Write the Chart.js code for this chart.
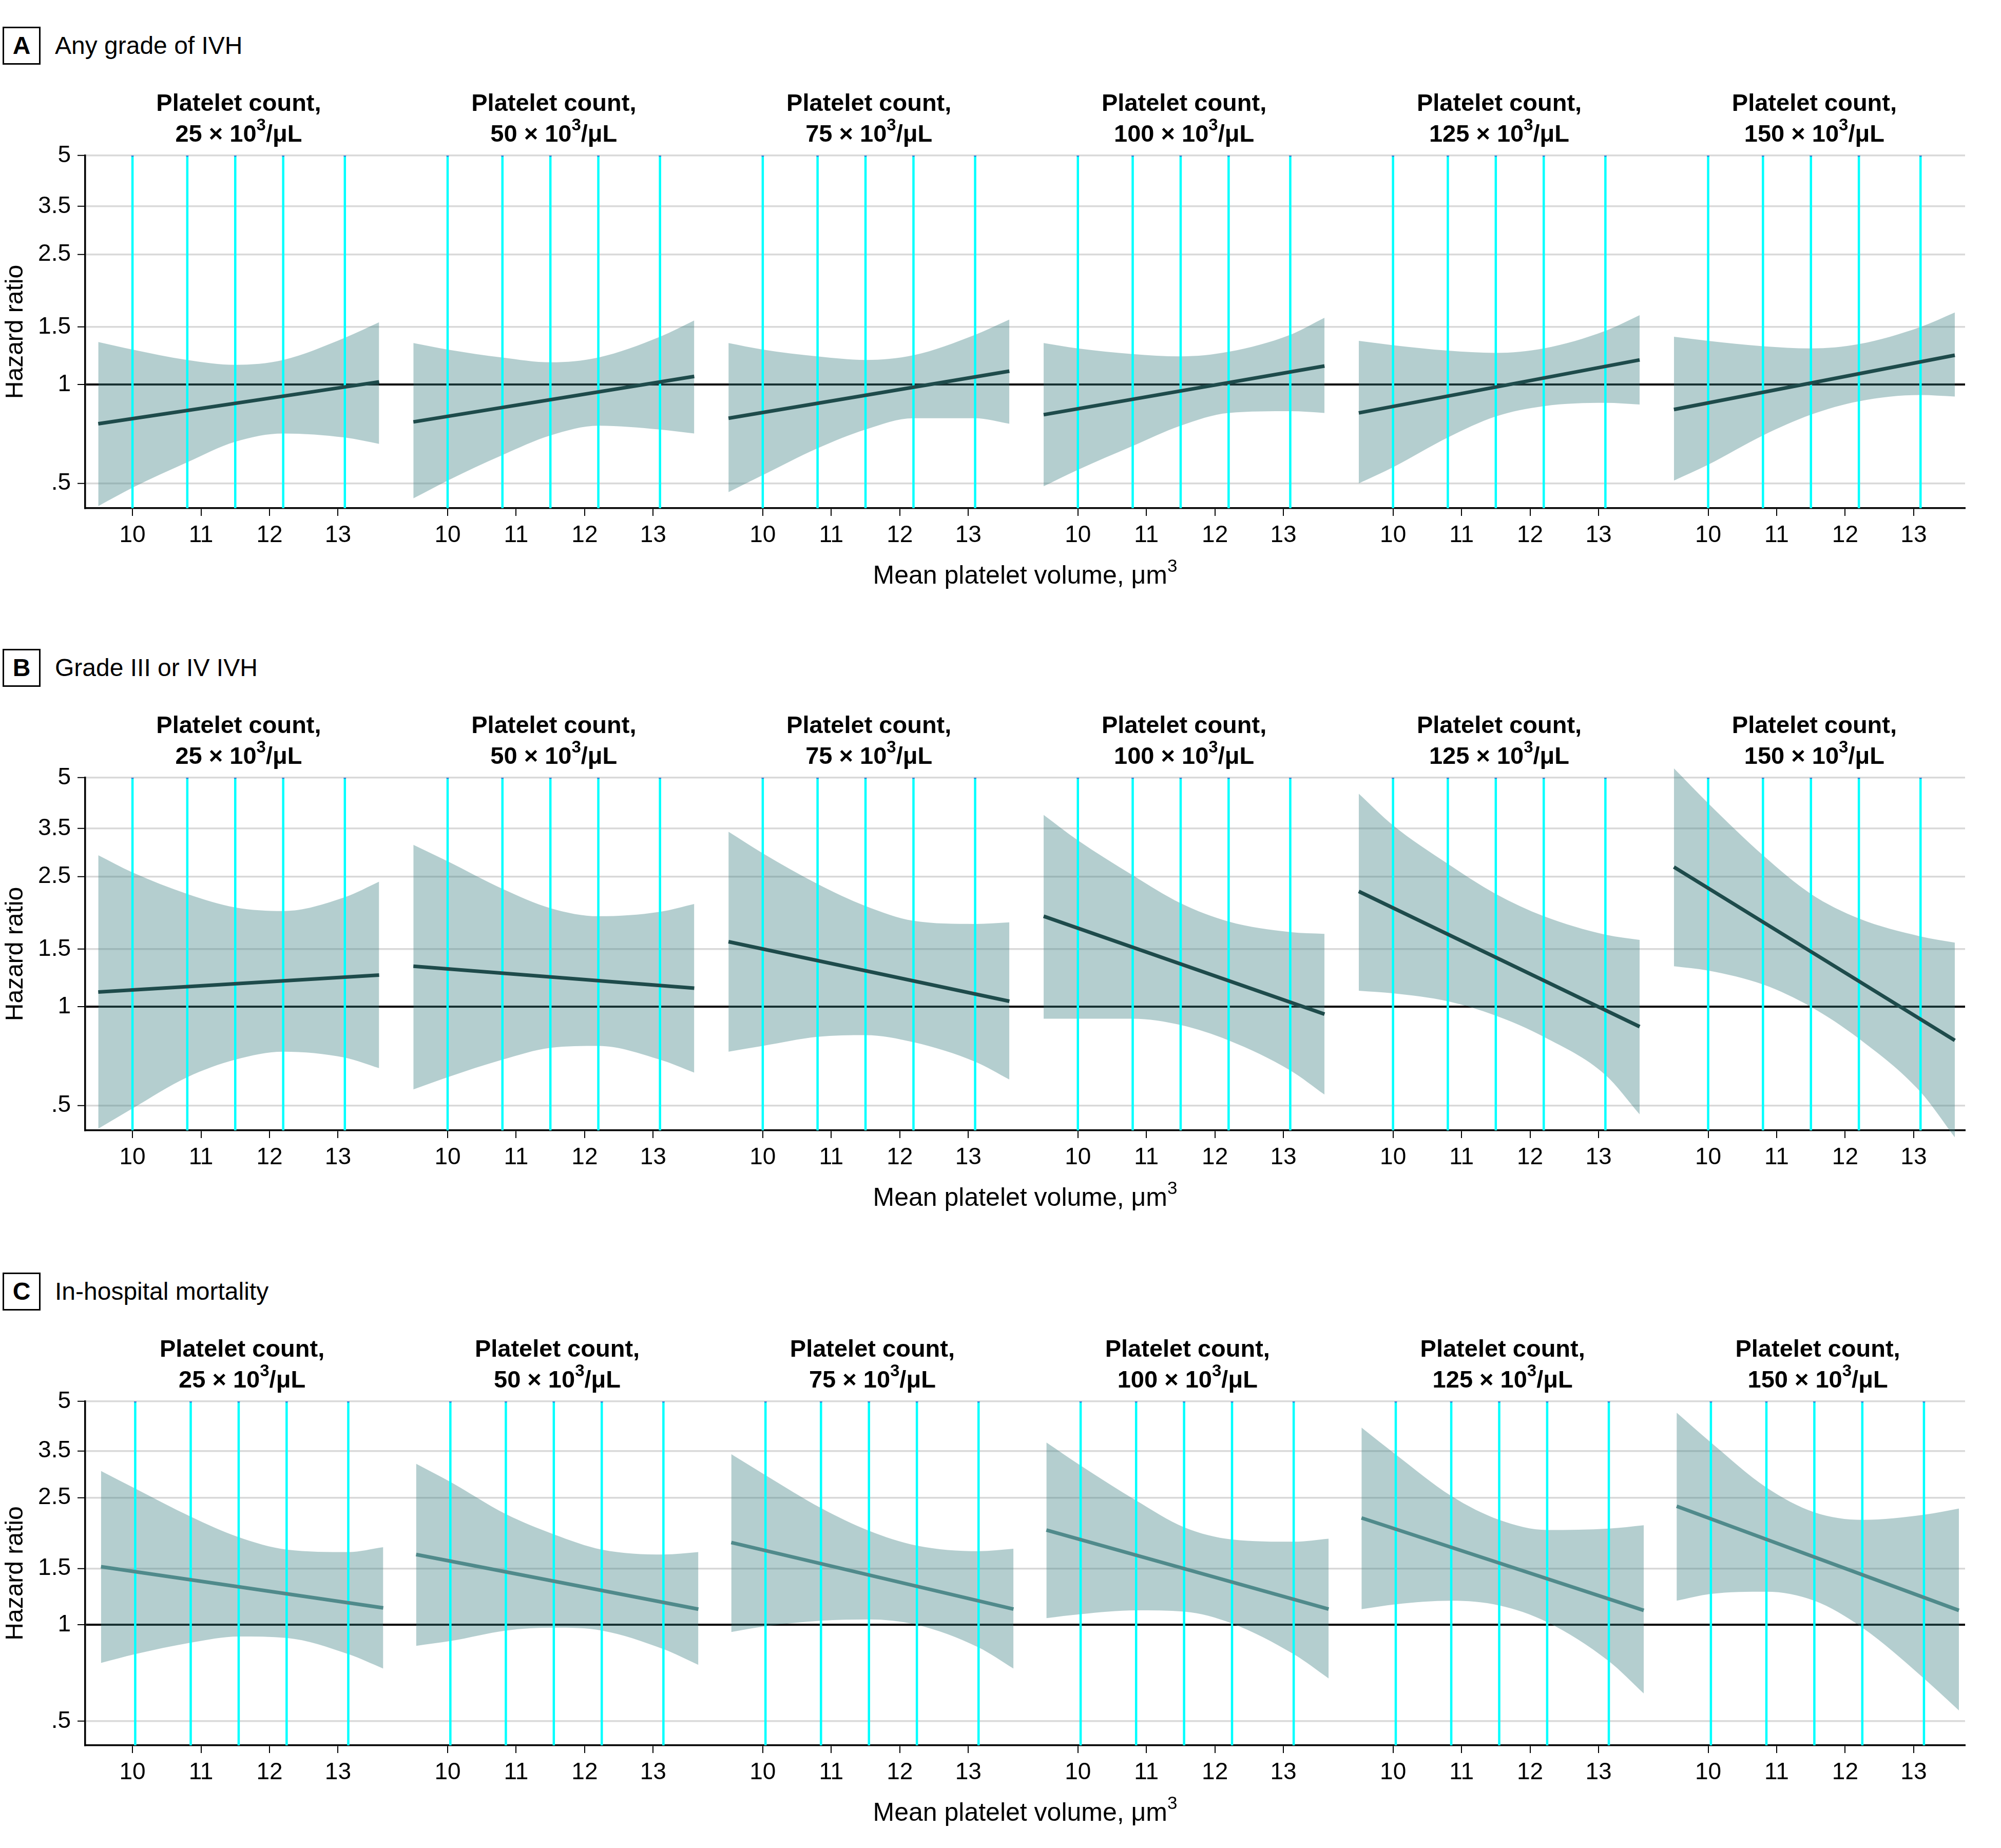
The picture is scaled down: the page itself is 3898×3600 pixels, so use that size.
<!DOCTYPE html>
<html>
<head>
<meta charset="utf-8">
<script src="https://cdn.jsdelivr.net/npm/chart.js@4.4.1/dist/chart.umd.min.js"></script>
<style>
  html, body { margin: 0; padding: 0; background: #fff; }
  body { width: 3898px; height: 3600px; position: relative; font-family: 'Liberation Sans', Arial, sans-serif; color: #000; }
  canvas { position: absolute; left: 0; }
  .tag { position: absolute; left: 5px; width: 68px; height: 68px; border: 3px solid #000; font-weight: bold; font-size: 48px; line-height: 68px; text-align: center; }
  .head { position: absolute; left: 107px; font-size: 48px; line-height: 74px; white-space: nowrap; }
</style>
</head>
<body>
<div class="tag" style="top:52px">A</div><div class="head" style="top:52px">Any grade of IVH</div>
<canvas id="rowA" width="3898" height="1017" style="top:140px"></canvas>
<div class="tag" style="top:1264px">B</div><div class="head" style="top:1264px">Grade III or IV IVH</div>
<canvas id="rowB" width="3898" height="1017" style="top:1352px"></canvas>
<div class="tag" style="top:2479px">C</div><div class="head" style="top:2479px">In-hospital mortality</div>
<canvas id="rowC" width="3898" height="1000" style="top:2567px"></canvas>
<script>
Chart.defaults.font.family = "'Liberation Sans', Arial, sans-serif"
Chart.defaults.color = '#000'

const plateletCounts = [25, 50, 75, 100, 125, 150]
const xTicks = [10, 11, 12, 13]
const yTicks = [0.5, 1, 1.5, 2.5, 3.5, 5]
const yTickLabels = ['.5', '1', '1.5', '2.5', '3.5', '5']

// mean platelet volume where the bands were read
const mpvAB = [9.5, 10.0, 10.8, 11.5, 12.2, 13.1, 13.6]
const mpvC = [9.54, 10.04, 10.85, 11.55, 12.25, 13.15, 13.66]
// cyan reference lines
const cyanAB = [10.0, 10.8, 11.5, 12.2, 13.1]
const cyanC = [10.04, 10.85, 11.55, 12.25, 13.15]

// A - any grade of IVH
const anyUpper = [
  [1.35, 1.28, 1.19, 1.15, 1.19, 1.39, 1.55],
  [1.34, 1.28, 1.21, 1.17, 1.21, 1.40, 1.57],
  [1.34, 1.28, 1.22, 1.19, 1.23, 1.42, 1.58],
  [1.34, 1.29, 1.24, 1.22, 1.26, 1.42, 1.60],
  [1.36, 1.32, 1.27, 1.25, 1.29, 1.46, 1.63],
  [1.40, 1.36, 1.31, 1.29, 1.33, 1.50, 1.66]
]
const anyLower = [
  [0.426, 0.485, 0.58, 0.67, 0.71, 0.69, 0.66],
  [0.45, 0.51, 0.61, 0.70, 0.75, 0.73, 0.71],
  [0.47, 0.53, 0.64, 0.73, 0.79, 0.79, 0.76],
  [0.49, 0.55, 0.65, 0.75, 0.82, 0.83, 0.82],
  [0.50, 0.56, 0.69, 0.80, 0.86, 0.88, 0.87],
  [0.51, 0.57, 0.70, 0.81, 0.89, 0.93, 0.92]
]
const anyHr = [[0.76, 1.02], [0.77, 1.06], [0.79, 1.10], [0.81, 1.14], [0.82, 1.19], [0.84, 1.23]]

// B - grade III or IV IVH
const sevUpper = [
  [2.90, 2.57, 2.21, 2.01, 1.96, 2.16, 2.41],
  [3.12, 2.78, 2.29, 2.00, 1.89, 1.95, 2.06],
  [3.42, 2.94, 2.37, 2.03, 1.83, 1.79, 1.81],
  [3.85, 3.22, 2.52, 2.07, 1.82, 1.69, 1.67],
  [4.47, 3.58, 2.73, 2.21, 1.89, 1.66, 1.60],
  [5.34, 4.18, 2.90, 2.21, 1.86, 1.64, 1.57]
]
const sevLower = [
  [0.425, 0.49, 0.61, 0.69, 0.73, 0.70, 0.65],
  [0.56, 0.61, 0.69, 0.75, 0.76, 0.69, 0.63],
  [0.73, 0.76, 0.81, 0.82, 0.78, 0.68, 0.60],
  [0.92, 0.92, 0.92, 0.88, 0.79, 0.64, 0.54],
  [1.12, 1.10, 1.04, 0.94, 0.81, 0.62, 0.47],
  [1.33, 1.29, 1.17, 1.00, 0.80, 0.55, 0.40]
]
const sevHr = [[1.11, 1.25], [1.33, 1.14], [1.58, 1.04], [1.89, 0.95], [2.25, 0.87], [2.67, 0.79]]

// C - in-hospital mortality
const mortUpper = [
  [3.03, 2.67, 2.18, 1.88, 1.72, 1.69, 1.75],
  [3.19, 2.80, 2.22, 1.92, 1.72, 1.66, 1.69],
  [3.42, 2.94, 2.32, 1.97, 1.77, 1.70, 1.73],
  [3.72, 3.15, 2.45, 2.02, 1.85, 1.82, 1.86],
  [4.14, 3.41, 2.53, 2.13, 1.98, 2.00, 2.05],
  [4.61, 3.72, 2.69, 2.25, 2.13, 2.21, 2.31]
]
const mortLower = [
  [0.76, 0.81, 0.88, 0.92, 0.91, 0.81, 0.73],
  [0.86, 0.89, 0.96, 0.98, 0.96, 0.84, 0.75],
  [0.95, 0.99, 1.03, 1.04, 1.00, 0.85, 0.73],
  [1.05, 1.08, 1.11, 1.10, 1.01, 0.81, 0.68],
  [1.12, 1.16, 1.19, 1.15, 1.02, 0.77, 0.61],
  [1.19, 1.25, 1.27, 1.19, 0.98, 0.68, 0.54]
]
const mortHr = [[1.52, 1.13], [1.66, 1.12], [1.81, 1.12], [1.98, 1.12], [2.16, 1.11], [2.35, 1.11]]

const FACET_SHIFT = 4.6   // x units between facets
const X_MIN = 9.31
const X_MAX = 36.75
const Y_MIN = 0.42
const Y_MAX = 5
const BAND = 'rgba(63, 128, 131, 0.39)'
const FONT = "'Liberation Sans', Arial, sans-serif"

// draws text pieces left to right, the 'sup' ones raised and smaller
function drawWithSup(ctx, pieces, cx, y, size, weight) {
  const fonts = pieces.map(p => (weight + ' ' + (p.sup ? Math.round(size * 0.7) : size) + 'px ' + FONT))
  let total = 0
  const widths = pieces.map((p, i) => { ctx.font = fonts[i]; const w = ctx.measureText(p.t).width; total += w; return w })
  let x = cx - total / 2
  ctx.textAlign = 'left'
  pieces.forEach((p, i) => {
    ctx.font = fonts[i]
    ctx.fillText(p.t, x, p.sup ? y - size * 0.38 : y)
    x += widths[i]
  })
}

// the band of facet 6 in panel B runs a little past the axis limits
const bandOverflow = {
  id: 'bandOverflow',
  beforeDatasetsDraw(chart) {
    const a = chart.chartArea
    chart.$savedArea = { top: a.top, bottom: a.bottom }
    a.top -= 60
    a.bottom += 30
  },
  afterDatasetsDraw(chart) {
    const a = chart.chartArea
    a.top = chart.$savedArea.top
    a.bottom = chart.$savedArea.bottom
  }
}

// titles above each facet and the x axis title
const facetTitles = {
  id: 'facetTitles',
  afterDraw(chart, args, opts) {
    const { ctx, chartArea, scales } = chart
    const mpv = opts.mpv
    ctx.save()
    ctx.fillStyle = '#000'
    ctx.textBaseline = 'middle'
    plateletCounts.forEach((pc, k) => {
      const cx = scales.x.getPixelForValue((mpv[0] + mpv[mpv.length - 1]) / 2 + k * FACET_SHIFT)
      ctx.font = 'bold 47px ' + FONT
      ctx.textAlign = 'center'
      ctx.fillText('Platelet count,', cx, chartArea.top - 100)
      drawWithSup(ctx, [{ t: pc + ' × 10' }, { t: '3', sup: true }, { t: '/μL' }], cx, chartArea.top - 40, 47, 'bold')
    })
    drawWithSup(ctx, [{ t: 'Mean platelet volume, μm' }, { t: '3', sup: true }],
      (chartArea.left + chartArea.right) / 2, chartArea.bottom + 133, 50, 'normal')
    ctx.restore()
  }
}

function buildRow(id, upper, lower, hr, mpv, cyan, lineColor) {
  const datasets = []
  plateletCounts.forEach((pc, k) => {
    const shift = k * FACET_SHIFT
    datasets.push({
      data: mpv.map((m, i) => ({ x: m + shift, y: upper[k][i] })),
      borderWidth: 0, pointRadius: 0, fill: '+1', backgroundColor: BAND,
      cubicInterpolationMode: 'monotone', order: 3, clip: false
    })
    datasets.push({
      data: mpv.map((m, i) => ({ x: m + shift, y: lower[k][i] })),
      borderWidth: 0, pointRadius: 0, fill: false, backgroundColor: BAND,
      cubicInterpolationMode: 'monotone', order: 3, clip: false
    })
    datasets.push({
      data: cyan.flatMap(c => [{ x: c + shift, y: Y_MIN }, { x: c + shift, y: Y_MAX }, { x: c + shift, y: null }]),
      borderColor: '#00ffff', borderWidth: 4.5, fill: false, spanGaps: false,
      pointRadius: ctx => (ctx.raw && ctx.raw.y === Y_MAX ? 2.5 : 0),
      pointBackgroundColor: '#3b76d6', pointBorderWidth: 0, order: 2
    })
    datasets.push({
      data: [{ x: mpv[0] + shift, y: hr[k][0] }, { x: mpv[mpv.length - 1] + shift, y: hr[k][1] }],
      borderColor: lineColor, borderWidth: 7, pointRadius: 0, fill: false, order: 1
    })
  })

  return new Chart(document.getElementById(id), {
    type: 'line',
    data: { datasets },
    options: {
      responsive: false,
      animation: false,
      devicePixelRatio: 1,
      events: [],
      layout: { padding: { top: 163, right: 70, left: 0, bottom: 0 } },
      plugins: {
        legend: { display: false },
        tooltip: { enabled: false },
        facetTitles: { mpv }
      },
      scales: {
        x: {
          type: 'linear', min: X_MIN, max: X_MAX,
          afterBuildTicks: s => {
            s.ticks = plateletCounts.flatMap((pc, k) => xTicks.map(t => ({ value: t + k * FACET_SHIFT })))
          },
          afterFit: s => { s.height = 167 },
          ticks: {
            autoSkip: false, maxRotation: 0, padding: 11,
            font: { size: 46 }, color: '#000',
            callback: (v, i) => String(xTicks[i % xTicks.length])
          },
          grid: { drawOnChartArea: false, drawTicks: true, tickLength: 15, color: '#000', lineWidth: 2 },
          border: { color: '#000', width: 3.5 }
        },
        y: {
          type: 'logarithmic', min: Y_MIN, max: Y_MAX,
          afterBuildTicks: s => { s.ticks = yTicks.map(v => ({ value: v })) },
          afterFit: s => { s.width = 166 },
          ticks: {
            autoSkip: false, padding: 13, font: { size: 46 }, color: '#000',
            callback: (v, i) => yTickLabels[i]
          },
          grid: {
            color: c => (c.tick && c.tick.value === 1 ? '#000' : '#d9d9d9'),
            lineWidth: c => (c.tick && c.tick.value === 1 ? 4 : 3.5),
            tickColor: '#000', tickWidth: 2, tickLength: 15, drawTicks: true
          },
          border: { color: '#000', width: 3.5 },
          title: {
            display: true, text: 'Hazard ratio',
            font: { size: 48 }, color: '#000', padding: { top: 2, bottom: 0 }
          }
        }
      }
    },
    plugins: [bandOverflow, facetTitles]
  })
}

buildRow('rowA', anyUpper, anyLower, anyHr, mpvAB, cyanAB, '#1e4b4b')
buildRow('rowB', sevUpper, sevLower, sevHr, mpvAB, cyanAB, '#1e4b4b')
buildRow('rowC', mortUpper, mortLower, mortHr, mpvC, cyanC, '#508a8b')
</script>
</body>
</html>
